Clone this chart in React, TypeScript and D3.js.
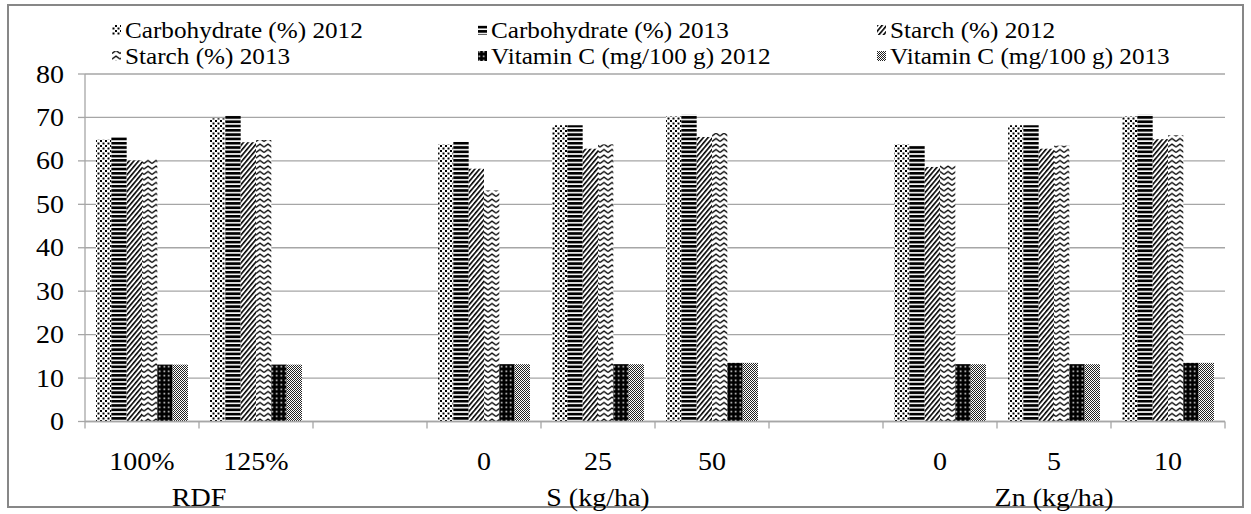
import React from "react";
import * as d3 from "d3";

const categories = ["100%", "125%", "", "0", "25", "50", "", "0", "5", "10"];
const groups = [
  { label: "RDF", from: 0, to: 1 },
  { label: "S (kg/ha)", from: 3, to: 5 },
  { label: "Zn (kg/ha)", from: 7, to: 9 },
];
const seriesNames = [
  "Carbohydrate (%) 2012",
  "Carbohydrate (%) 2013",
  "Starch (%) 2012",
  "Starch (%) 2013",
  "Vitamin C (mg/100 g) 2012",
  "Vitamin C (mg/100 g) 2013",
];
const carb2012 = [64.9, 69.8, null, 63.8, 68.2, 70.2, null, 63.8, 68.2, 70.2];
const carb2013 = [65.5, 70.5, null, 64.4, 68.2, 70.6, null, 63.5, 68.2, 70.6];
const starch2012 = [60.1, 64.3, null, 58.2, 62.8, 65.5, null, 58.6, 62.8, 65.0];
const starch2013 = [60.4, 64.8, null, 53.2, 63.8, 66.4, null, 59.0, 63.5, 65.9];
const vitc2012 = [13.1, 13.1, null, 13.2, 13.2, 13.5, null, 13.2, 13.2, 13.5];
const vitc2013 = [13.1, 13.1, null, 13.2, 13.2, 13.5, null, 13.2, 13.2, 13.5];
const seriesValues = [carb2012, carb2013, starch2012, starch2013, vitc2012, vitc2013];
const yTicks = [0, 10, 20, 30, 40, 50, 60, 70, 80];

const W = 1251;
const H = 514;
const plot = { left: 85, right: 1225, top: 74, bottom: 421.5 };
const FONT = "Liberation Serif, DejaVu Serif, Times New Roman, serif";

function Patterns() {
  return (
    <defs>
      <pattern id="p0" patternUnits="userSpaceOnUse" width="5" height="5">
        <rect width="5" height="5" fill="#fff" />
        <rect x="0" y="0" width="2" height="2" fill="#000" />
        <rect x="2.5" y="2.5" width="2" height="2" fill="#000" />
      </pattern>
      <pattern id="p1" patternUnits="userSpaceOnUse" width="4" height="4.3">
        <rect width="4" height="4.3" fill="#fff" />
        <rect x="0" y="0" width="4" height="2.7" fill="#000" />
      </pattern>
      <pattern id="p2" patternUnits="userSpaceOnUse" width="3.6" height="4" patternTransform="rotate(40)">
        <rect width="3.6" height="4" fill="#fff" />
        <rect x="0" y="0" width="1.6" height="4" fill="#000" />
      </pattern>
      <pattern id="p3" patternUnits="userSpaceOnUse" width="8" height="5.5">
        <rect width="8" height="5.5" fill="#fff" />
        <path d="M0,4 L4,1 L8,4" stroke="#000" strokeWidth="1.3" fill="none" />
      </pattern>
      <pattern id="p4" patternUnits="userSpaceOnUse" width="4.5" height="4.5">
        <rect width="4.5" height="4.5" fill="#000" />
        <rect x="1.5" y="1.5" width="1.5" height="1.5" fill="#fff" />
      </pattern>
      <pattern id="p5" patternUnits="userSpaceOnUse" width="2" height="2">
        <rect width="2" height="2" fill="#fff" />
        <rect x="0" y="0" width="1" height="1" fill="#222" />
        <rect x="1" y="1" width="1" height="1" fill="#222" />
      </pattern>
    </defs>
  );
}

function T(props: {
  x: number;
  y: number;
  size: number;
  sx: number;
  anchor?: "start" | "middle" | "end";
  children: React.ReactNode;
}) {
  return (
    <text
      transform={`translate(${props.x},${props.y}) scale(${props.sx},1)`}
      fontSize={props.size}
      textAnchor={props.anchor || "start"}
      fill="#000"
      style={{ fontFamily: FONT }}
    >
      {props.children}
    </text>
  );
}

export default function App() {
  const x = d3
    .scaleBand<number>()
    .domain(d3.range(categories.length))
    .range([plot.left, plot.right])
    .paddingInner(0)
    .paddingOuter(0);
  const y = d3.scaleLinear().domain([0, 80]).range([plot.bottom, plot.top]);
  const step = x.bandwidth();
  const inner = d3
    .scaleBand<number>()
    .domain(d3.range(seriesNames.length))
    .range([0, step])
    .paddingOuter(0.72)
    .paddingInner(0);

  const legendCols = [112, 478, 877];
  const legendRows = [30, 56];
  const AX = 25;
  const AXS = 1.12;

  return (
    <svg width={W} height={H} style={{ position: "absolute", left: 0, top: 0, fontFamily: FONT }}>
      <Patterns />
      <rect x={0} y={0} width={W} height={H} fill="#fff" />
      <rect x={8} y={5} width={1235} height={502} fill="none" stroke="#878787" strokeWidth={2} />

      {yTicks.map((t) => (
        <line key={"g" + t} x1={plot.left} x2={plot.right} y1={y(t)} y2={y(t)} stroke="#a6a6a6" strokeWidth={1.3} />
      ))}
      <line x1={plot.left} x2={plot.left} y1={plot.top} y2={plot.bottom} stroke="#a6a6a6" strokeWidth={1.3} />
      {yTicks.map((t) => (
        <g key={"yt" + t}>
          <line x1={plot.left - 7} x2={plot.left} y1={y(t)} y2={y(t)} stroke="#a6a6a6" strokeWidth={1.3} />
          <T x={64} y={y(t) + 8.5} size={AX} sx={AXS} anchor="end">
            {t}
          </T>
        </g>
      ))}

      {seriesValues.map((vals, si) => (
        <g key={"s" + si} fill={`url(#p${si})`}>
          {vals.map((v, ci) =>
            v == null ? null : (
              <rect
                key={ci}
                x={(x(ci) as number) + (inner(si) as number)}
                y={y(v)}
                width={inner.bandwidth()}
                height={y(0) - y(v)}
              />
            )
          )}
        </g>
      ))}

      <line x1={plot.left} x2={plot.right} y1={plot.bottom} y2={plot.bottom} stroke="#a6a6a6" strokeWidth={1.3} />
      {d3.range(categories.length + 1).map((i) => {
        const xx = plot.left + i * step;
        return <line key={"xt" + i} x1={xx} x2={xx} y1={plot.bottom} y2={plot.bottom + 7} stroke="#a6a6a6" strokeWidth={1.3} />;
      })}
      {categories.map((c, i) => (
        <T key={"xl" + i} x={(x(i) as number) + step / 2} y={470} size={AX} sx={AXS} anchor="middle">
          {c}
        </T>
      ))}
      {groups.map((g) => (
        <T
          key={g.label}
          x={((x(g.from) as number) + (x(g.to) as number) + step) / 2}
          y={506}
          size={AX}
          sx={AXS}
          anchor="middle"
        >
          {g.label}
        </T>
      ))}

      {seriesNames.map((name, i) => {
        const col = i % 3;
        const row = Math.floor(i / 3);
        const lx = legendCols[col];
        const ly = legendRows[row];
        return (
          <g key={"lg" + i}>
            <rect x={lx} y={ly - 5} width={9} height={10} fill={`url(#p${i})`} />
            <T x={lx + 13} y={ly + 8} size={24} sx={1.05}>
              {name}
            </T>
          </g>
        );
      })}
    </svg>
  );
}
